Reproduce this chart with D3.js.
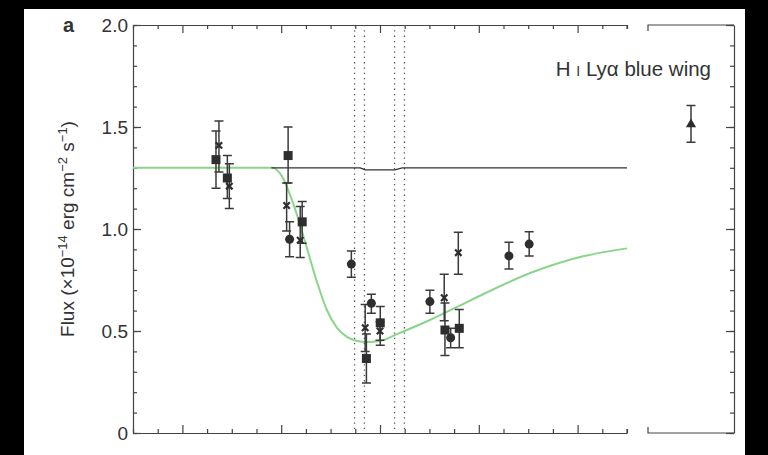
<!DOCTYPE html>
<html>
<head>
<meta charset="utf-8">
<script src="https://cdn.jsdelivr.net/npm/d3@7/dist/d3.min.js"></script>
<style>
  html, body { margin: 0; padding: 0; background: #000; }
  svg { display: block; }
  text { font-family: "Liberation Sans", Arial, Helvetica, sans-serif; fill: #333; }
</style>
</head>
<body>
<svg id="chart" width="768" height="455"></svg>
<script>
// ---- data -------------------------------------------------------------
// x positions are in bin units along the (unlabelled) horizontal axis, 0..20
const xTickValues = d3.range(0, 21);
const xMajorTicks = [2, 6, 10, 14, 18];
const yTickValues = [0, 0.5, 1.0, 1.5, 2.0];
const yTickLabels = ["0", "0.5", "1.0", "1.5", "2.0"];
const yMinorTicks = d3.range(0, 21).map(i => i / 10);

// squares: [x, flux, low, high]
const squareX    = [3.36, 3.82, 6.28, 6.85, 9.45, 10.01, 12.63, 13.21];
const squareFlux = [1.34, 1.25, 1.36, 1.035, 0.365, 0.54, 0.505, 0.513];
const squareLo   = [1.20, 1.15, 1.225, 0.93, 0.245, 0.43, 0.38, 0.418];
const squareHi   = [1.48, 1.36, 1.50, 1.135, 0.485, 0.62, 0.637, 0.606];

// circles
const circleX    = [6.34, 8.84, 9.65, 12.02, 12.86, 15.22, 16.04];
const circleFlux = [0.95, 0.828, 0.636, 0.644, 0.467, 0.868, 0.926];
const circleLo   = [0.864, 0.763, 0.587, 0.587, 0.418, 0.804, 0.868];
const circleHi   = [1.036, 0.892, 0.68, 0.70, 0.513, 0.935, 0.987];

// crosses
const crossX    = [3.48, 3.90, 6.22, 6.77, 9.40, 10.0, 12.60, 13.17];
const crossFlux = [1.41, 1.21, 1.115, 0.945, 0.516, 0.50, 0.663, 0.884];
const crossLo   = [1.28, 1.10, 0.99, 0.86, 0.40, 0.455, 0.55, 0.778];
const crossHi   = [1.53, 1.32, 1.225, 1.11, 0.63, 0.545, 0.778, 0.984];

// blue-wing point (right-hand panel)
const wingFlux = 1.513, wingLo = 1.425, wingHi = 1.606;

// model profile (green) and unabsorbed level (black)
const modelX    = [0, 5.63, 6.07, 6.36, 6.64, 7.04, 7.45, 7.85, 8.26, 8.66, 9.07, 9.47, 10.0, 10.69, 12.02, 13.52, 16.19, 18.22, 20];
const modelFlux = [1.30, 1.30, 1.25, 1.167, 1.069, 0.907, 0.74, 0.603, 0.515, 0.471, 0.451, 0.446, 0.451, 0.485, 0.554, 0.642, 0.789, 0.866, 0.905];
const levelX    = [5.6, 9.2, 9.4, 10.6, 10.9, 20];
const levelFlux = [1.30, 1.30, 1.29, 1.29, 1.30, 1.30];

// dotted markers
const dottedX = [8.97, 9.37, 10.59, 10.99];

// ---- layout ------------------------------------------------------------
const svg = d3.select("#chart");
svg.append("rect").attr("x", 24).attr("y", 9).attr("width", 721).attr("height", 446).attr("fill", "#fff");

const x = d3.scaleLinear().domain([0, 20]).range([133, 627]);
const y = d3.scaleLinear().domain([0, 2]).range([433, 25]);
const xr = d3.scaleLinear().domain([0, 1]).range([648, 734]);

const axisColor = "#444";
const style = g => {
  g.selectAll("path, line").attr("stroke", axisColor).attr("stroke-width", 1.2);
  g.selectAll("text").remove();
};

// bottom / top axes of main panel (ticks point inward)
svg.append("g").attr("transform", "translate(0,433)")
  .call(d3.axisBottom(x).tickValues(xTickValues.filter(v => !xMajorTicks.includes(v))).tickSize(-4).tickSizeOuter(0).tickFormat(""))
  .call(style);
svg.append("g").attr("transform", "translate(0,433)")
  .call(d3.axisBottom(x).tickValues(xMajorTicks).tickSize(-8).tickSizeOuter(0).tickFormat(""))
  .call(style).call(g => g.select(".domain").remove());
svg.append("g").attr("transform", "translate(0,25)")
  .call(d3.axisTop(x).tickValues(xTickValues.filter(v => !xMajorTicks.includes(v))).tickSize(-4).tickSizeOuter(0).tickFormat(""))
  .call(style);
svg.append("g").attr("transform", "translate(0,25)")
  .call(d3.axisTop(x).tickValues(xMajorTicks).tickSize(-8).tickSizeOuter(0).tickFormat(""))
  .call(style).call(g => g.select(".domain").remove());

// break hooks at the right end of the main panel
svg.append("path").attr("d", `M${x(20)},${y(2)}v4M${x(20)},${y(0)}v-4`)
  .attr("stroke", axisColor).attr("stroke-width", 1.2).attr("fill", "none");

// left axis
svg.append("g").attr("transform", "translate(133,0)")
  .call(d3.axisLeft(y).tickValues(yMinorTicks).tickSize(-4).tickSizeOuter(0).tickFormat(""))
  .call(style);
const yAxisG = svg.append("g").attr("transform", "translate(133,0)")
  .call(d3.axisLeft(y).tickValues(yTickValues).tickSize(-8).tickSizeOuter(0).tickPadding(5)
    .tickFormat((d, i) => yTickLabels[i]));
yAxisG.select(".domain").remove();
yAxisG.selectAll("line").attr("stroke", axisColor).attr("stroke-width", 1.2);
yAxisG.selectAll("text").attr("font-size", 19).attr("fill", "#333")
  .style("font-family", "'Liberation Sans', Arial, sans-serif");

// right-hand panel frame
svg.append("path")
  .attr("d", `M${xr(0)},${y(2) + 6}V${y(2)}H${xr(1)}M${xr(0)},${y(0) - 6}V${y(0)}H${xr(1)}`)
  .attr("stroke", axisColor).attr("stroke-width", 1.2).attr("fill", "none");
svg.append("g").attr("transform", `translate(${xr(1)},0)`)
  .call(d3.axisRight(y).tickValues(yMinorTicks).tickSize(-4).tickSizeOuter(0).tickFormat(""))
  .call(style);
svg.append("g").attr("transform", `translate(${xr(1)},0)`)
  .call(d3.axisRight(y).tickValues(yTickValues).tickSize(-8).tickSizeOuter(0).tickFormat(""))
  .call(style).call(g => g.select(".domain").remove());

// dotted velocity markers
svg.append("g").selectAll("line").data(dottedX).join("line")
  .attr("x1", d => x(d)).attr("x2", d => x(d))
  .attr("y1", y(2)).attr("y2", y(0))
  .attr("stroke", "#555").attr("stroke-width", 1.3).attr("stroke-dasharray", "1.3,4");

// model and unabsorbed level
const line = d3.line().x(d => x(d[0])).y(d => y(d[1])).curve(d3.curveMonotoneX);
svg.append("path").datum(d3.zip(modelX, modelFlux)).attr("d", line)
  .attr("fill", "none").attr("stroke", "#8ad58a").attr("stroke-width", 2);
svg.append("path").datum(d3.zip(levelX, levelFlux)).attr("d", d3.line().x(d => x(d[0])).y(d => y(d[1])))
  .attr("fill", "none").attr("stroke", "#333").attr("stroke-width", 1.3);

// error bars
const ink = "#2e2e2e";
function errorBars(xs, lo, hi, sx) {
  const g = svg.append("g").attr("stroke", "#3a3a3a").attr("stroke-width", 1.5).attr("fill", "none");
  xs.forEach((xv, i) => {
    const px = sx(xv);
    g.append("path").attr("d",
      `M${px},${y(lo[i])}V${y(hi[i])}M${px - 4.5},${y(hi[i])}H${px + 4.5}M${px - 4.5},${y(lo[i])}H${px + 4.5}`);
  });
}
errorBars(squareX, squareLo, squareHi, x);
errorBars(circleX, circleLo, circleHi, x);
errorBars(crossX, crossLo, crossHi, x);
errorBars([0.5], [wingLo], [wingHi], xr);

// markers
svg.append("g").selectAll("rect").data(d3.zip(squareX, squareFlux)).join("rect")
  .attr("x", d => x(d[0]) - 4.5).attr("y", d => y(d[1]) - 4.5)
  .attr("width", 9).attr("height", 9).attr("fill", ink);
svg.append("g").selectAll("circle").data(d3.zip(circleX, circleFlux)).join("circle")
  .attr("cx", d => x(d[0])).attr("cy", d => y(d[1])).attr("r", 4.5).attr("fill", ink);
svg.append("g").selectAll("path").data(d3.zip(crossX, crossFlux)).join("path")
  .attr("d", d => { const px = x(d[0]), py = y(d[1]), s = 3.2;
    return `M${px - s},${py - s}L${px + s},${py + s}M${px - s},${py + s}L${px + s},${py - s}`; })
  .attr("stroke", ink).attr("stroke-width", 2.2);
svg.append("path")
  .attr("d", d3.symbol(d3.symbolTriangle, 45)())
  .attr("transform", `translate(${xr(0.5)},${y(wingFlux)})`).attr("fill", ink);

// labels
svg.append("text").attr("x", 63).attr("y", 32).attr("font-size", 20).attr("font-weight", "bold").attr("fill", "#222").text("a");

const title = svg.append("text").attr("transform", `translate(74,${y(1)}) rotate(-90)`)
  .attr("text-anchor", "middle").attr("font-size", 19);
title.append("tspan").text("Flux (\u00d710");
title.append("tspan").attr("dy", -7).attr("font-size", 13).text("\u221214");
title.append("tspan").attr("dy", 7).text(" erg cm");
title.append("tspan").attr("dy", -7).attr("font-size", 13).text("\u22122");
title.append("tspan").attr("dy", 7).text(" s");
title.append("tspan").attr("dy", -7).attr("font-size", 13).text("\u22121");
title.append("tspan").attr("dy", 7).text(")");

const wing = svg.append("text").attr("x", 711).attr("y", 76).attr("text-anchor", "end").attr("font-size", 20.5);
wing.append("tspan").text("H ");
wing.append("tspan").attr("font-size", 14).text("I");
wing.append("tspan").text(" Ly\u03b1 blue wing");
</script>
</body>
</html>
